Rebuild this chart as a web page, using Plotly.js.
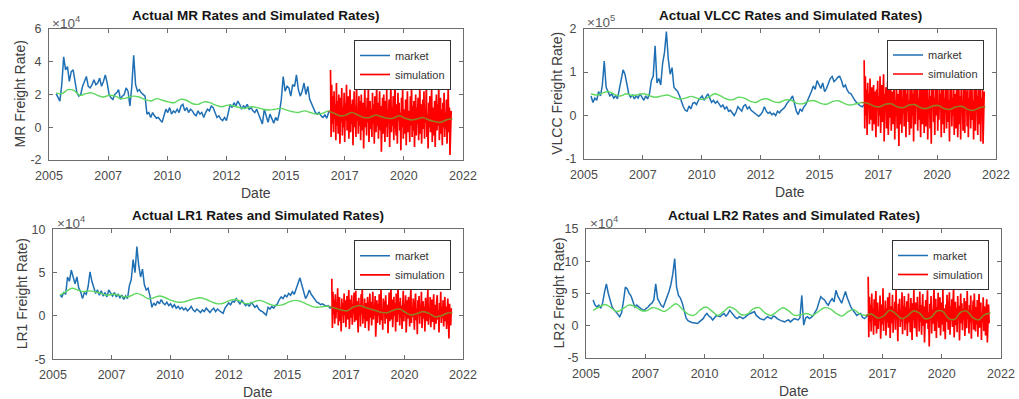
<!DOCTYPE html>
<html><head><meta charset="utf-8">
<script src="https://cdn.plot.ly/plotly-3.0.1.min.js"></script>
<style>html,body{margin:0;padding:0;background:#fff}#chart{width:1019px;height:399px}</style>
</head><body><div id="chart"></div>
<script>
// ---------- shared axis data ----------
const xTickVals = [2005, 2007.5, 2010, 2012.5, 2015, 2017.5, 2020, 2022.5];
const xTickText = ['2005', '2007', '2010', '2012', '2015', '2017', '2020', '2022'];
const marketStart = 2005.3, marketStep = 0.08;   // market series dates
const simStart = 2016.9, simStep = 0.025;         // simulation dates
const meanStart = 2005.3, meanStep = 0.25;        // fitted mean dates

// ---------- MR (x 1e4) ----------
const mrMarket = [2.05,1.8,1.6,2.6,4.3,3.5,3.7,2.8,3.4,3.5,2.7,2.1,1.9,2.0,2.5,2.8,3.1,2.5,2.4,2.6,
2.9,2.6,2.7,3.0,2.5,2.8,3.2,2.7,2.0,1.8,1.7,2.0,2.1,2.3,1.7,1.9,2.0,2.4,2.2,1.3,
2.5,4.4,2.6,2.2,2.3,2.1,2.0,1.9,0.8,0.9,0.6,0.9,0.7,0.55,0.6,0.45,0.3,0.7,1.1,0.9,
1.2,0.8,1.0,0.9,1.1,0.9,1.3,1.4,1.0,1.2,0.9,1.1,1.0,0.8,0.7,1.0,0.8,0.9,0.6,0.9,
1.1,1.0,1.3,1.2,0.9,0.6,0.7,0.5,0.4,0.6,0.4,0.9,1.4,1.2,1.5,1.3,1.6,1.4,1.1,1.3,
1.2,1.4,1.1,1.2,1.0,0.9,1.1,0.8,0.5,0.2,1.1,0.6,0.3,0.8,0.5,0.25,0.6,0.4,0.9,1.7,
3.1,2.2,2.5,2.4,1.9,2.6,2.5,3.2,2.3,1.9,2.2,2.7,2.0,2.5,1.7,1.4,1.1,0.9,0.8,0.9,
0.7,0.6,0.75,0.55,0.9,1.0];
const mrSim = [3.5,-0.6,2.6,0.2,1.9,-0.3,2.2,0.5,1.4,-0.8, 2.7,0.1,1.6,-0.4,2.0,0.6,-1.0,1.8,0.3,2.4,
-0.5,1.2,0.0,2.1,-0.9,1.5,0.4,2.6,-0.2,1.0, 1.9,-0.7,0.8,2.3,-0.3,1.4,0.2,1.7,-1.1,0.9,
2.2,0.0,1.3,-0.6,2.8,0.4,1.1,-0.4,1.9,0.1, 1.6,-0.8,2.0,0.5,-0.2,1.5,-1.3,0.9,2.4,0.0,
1.2,-0.5,1.8,0.3,2.5,-0.9,0.7,1.6,-0.1,1.1, -0.6,2.1,0.2,1.4,-1.0,1.9,0.5,-0.3,2.7,0.1,
1.5,-0.7,0.9,2.2,-0.2,1.3,-1.5,0.6,1.8,-0.4, 2.0,0.3,-0.9,1.6,0.0,2.3,-0.6,1.1,0.4,1.7,
-1.2,0.8,2.6,-0.3,1.2,0.1,1.9,-0.8,1.0,3.0, 0.2,-0.5,1.4,-1.0,2.1,0.4,1.5,-0.2,0.9,-1.4,
1.8,0.0,2.4,-0.7,1.1,0.3,-0.4,1.7,-1.1,0.8, 2.2,-0.3,1.0,0.5,-0.9,1.9,0.1,2.7,-0.6,1.3,
-0.2,1.6,-1.2,0.7,2.0,-0.5,1.2,0.2,1.8,-0.8, 0.9,2.5,-0.4,1.4,-1.0,0.6,1.7,-0.1,2.2,-0.7,
1.1,0.3,2.9,-0.6,0.8,-1.3,1.5,0.0,1.9,-0.3, 0.6,2.3,-0.9,1.2,0.2,-0.5,1.6,-1.2,1.0,2.0,
-0.2,1.4,0.1,2.6,-0.8,0.7,1.8,-0.4,1.1,-1.1, 1.5,0.0,2.1,-0.6,0.9,-0.1,1.7,-1.0,0.5,2.4,
-0.3,1.2,-1.7,0.6,1.0];
const mrMean = [2.1,2.05,2.3,2.25,1.95,2.05,2.1,1.95,1.85,1.95,1.9,1.75,1.8,1.9,1.85,1.7,1.6,1.75,1.65,1.55,
1.5,1.7,1.65,1.45,1.4,1.55,1.5,1.35,1.25,1.35,1.3,1.2,1.15,1.25,1.2,1.1,1.05,1.1,1.15,1.05,
0.95,0.9,1.0,0.9,0.8,0.85,1.0,0.85,0.7,0.75,0.9,0.75,0.6,0.6,0.75,0.65,0.55,0.55,0.7,0.55,
0.45,0.5,0.6,0.45,0.35,0.3,0.45,0.5];

// ---------- VLCC (x 1e5) ----------
const vlccMarket = [0.45,0.3,0.4,0.35,0.55,0.45,0.7,1.25,0.65,0.55,0.45,0.5,0.4,0.45,0.38,0.6,0.85,1.05,0.95,0.7,
0.5,0.42,0.48,0.38,0.45,0.4,0.5,0.42,0.35,0.45,0.38,0.5,0.8,0.9,1.6,0.75,0.85,0.7,1.2,1.45,
1.93,1.3,0.95,1.1,0.65,0.6,0.55,0.45,0.3,0.2,0.12,0.1,0.22,0.15,0.28,0.3,0.25,0.35,0.4,0.45,
0.35,0.42,0.5,0.4,0.3,0.35,0.28,0.33,0.25,0.2,0.24,0.15,0.2,0.1,0.12,0.05,0.0,0.08,0.2,0.15,
0.1,0.22,0.25,0.15,0.2,0.12,0.08,0.05,0.0,-0.02,0.02,0.08,0.2,0.1,0.05,0.08,0.02,0.05,0.0,0.1,
0.06,0.12,0.15,0.2,0.28,0.32,0.38,0.45,0.3,0.1,0.02,0.15,0.1,0.2,0.25,0.35,0.42,0.55,0.68,0.6,
0.8,0.7,0.62,0.75,0.55,0.62,0.72,0.85,0.9,0.78,0.82,0.88,0.9,0.8,0.65,0.7,0.58,0.52,0.5,0.42,
0.35,0.3,0.25,0.22,0.2,0.25];
const vlccSim = [1.27,-0.3,0.9,0.0,0.6,-0.45,0.75,0.2,0.5,-0.2, 0.85,-0.1,0.4,0.65,-0.35,0.3,0.7,-0.2,0.55,0.05,
-0.5,0.6,0.15,0.8,-0.25,0.45,0.0,0.9,-0.4,0.35, 0.7,-0.15,0.25,0.95,-0.6,0.5,0.1,0.65,-0.3,0.4,
0.8,-0.45,0.3,0.6,-0.05,0.85,-0.35,0.2,0.55,-0.2, 0.45,0.9,-0.55,0.35,0.0,0.7,-0.3,0.5,0.15,-0.7,
0.6,0.25,-0.2,0.8,-0.4,0.4,0.05,0.95,-0.25,0.3, 0.7,-0.5,0.5,0.1,0.85,-0.15,0.35,-0.45,0.6,0.2,
-0.3,0.75,0.0,0.5,-0.6,0.9,0.15,-0.2,0.65,0.3, 0.85,-0.35,0.4,-0.1,0.7,0.2,-0.5,0.55,0.95,-0.2,
0.3,0.6,-0.4,0.8,0.05,-0.25,0.5,0.9,-0.55,0.35, 0.1,0.75,-0.3,0.45,-0.65,0.6,0.2,0.85,-0.15,0.4,
-0.45,0.7,0.0,0.55,0.9,-0.35,0.3,-0.1,0.8,0.15, 0.5,-0.5,0.65,0.25,-0.2,0.85,-0.4,0.4,0.05,0.7,
-0.3,0.55,0.95,-0.15,0.35,-0.6,0.6,0.1,0.75,-0.25, 0.4,0.0,0.8,-0.45,0.5,0.2,-0.3,0.7,0.9,-0.5,
0.25,0.6,-0.2,0.45,-0.55,0.85,0.1,0.35,-0.35,0.65, 0.15,-0.4,0.75,0.3,0.55,-0.25,0.9,-0.5,0.4,0.05,
0.7,-0.3,0.5,0.8,-0.1,0.35,-0.55,0.6,0.2,-0.35, 0.75,0.1,0.45,-0.45,0.85,-0.2,0.3,0.6,-0.6,0.4,
0.0,0.7,-0.65,0.3,0.55];
const vlccMean = [0.5,0.47,0.52,0.55,0.48,0.45,0.5,0.46,0.48,0.5,0.45,0.42,0.45,0.47,0.42,0.38,0.4,0.44,0.4,0.37,
0.42,0.5,0.45,0.38,0.36,0.42,0.4,0.33,0.3,0.37,0.38,0.32,0.3,0.36,0.35,0.28,0.27,0.33,0.34,0.28,
0.26,0.32,0.34,0.28,0.24,0.27,0.3,0.28,0.22,0.2,0.26,0.27,0.2,0.18,0.24,0.25,0.18,0.16,0.22,0.23,
0.16,0.14,0.2,0.21,0.14,0.12,0.18,0.2];

// ---------- LR1 (x 1e4) ----------
const lr1Market = [2.4,2.2,2.7,2.5,4.5,4.0,5.3,4.4,3.7,4.5,3.2,2.8,2.0,2.7,2.5,3.4,5.1,4.0,3.3,2.6,
3.0,2.4,2.9,2.3,2.7,2.2,3.0,2.6,2.3,2.7,2.2,2.5,2.1,2.4,1.9,2.3,2.0,3.5,4.2,6.5,
5.0,8.0,5.8,4.5,5.4,3.6,3.0,3.2,2.3,1.0,1.5,1.2,1.7,1.4,1.9,1.5,1.3,1.6,1.2,1.4,
1.0,1.3,0.9,1.1,0.8,1.0,0.7,0.9,0.6,0.8,1.1,0.7,0.5,0.8,0.6,0.4,0.7,0.5,0.9,0.6,
0.4,0.7,0.9,0.5,0.8,0.6,0.4,0.3,0.9,1.2,1.5,1.3,1.7,1.6,2.0,1.7,1.4,1.8,1.5,1.2,
1.4,1.1,1.6,1.3,1.0,1.2,0.8,0.6,0.5,0.3,0.1,1.0,0.8,1.1,0.9,1.2,1.4,1.9,2.2,2.0,
2.4,2.2,2.6,2.4,2.8,2.5,3.2,3.9,4.4,3.6,2.8,2.0,2.4,3.0,2.5,2.2,1.8,1.6,1.5,1.3,
1.4,1.2,1.1,1.2,0.9,1.0];
const lr1Sim = [4.3,-1.4,2.8,0.2,1.9,-0.9,2.5,-0.3,1.6,0.5, 3.2,-1.1,1.3,2.2,-0.6,1.0,-1.8,2.0,0.4,1.5,
-0.8,2.6,0.1,1.8,-1.3,0.9,2.3,-0.4,1.2,3.0, -1.5,0.7,1.9,-0.2,2.4,-1.0,1.4,0.3,2.7,-0.7,
1.1,2.9,-0.5,1.7,0.0,-1.9,2.1,0.6,1.3,-1.2, 2.5,0.2,3.3,-0.9,1.0,-0.3,2.0,-1.4,1.5,0.4,
-0.6,2.2,1.1,-1.7,0.8,2.6,-0.2,1.6,-1.1,0.9, 2.8,-0.4,1.2,0.1,2.3,-2.4,0.7,1.8,-0.8,1.4,
0.0,2.5,-1.0,1.1,3.1,-0.5,0.6,-1.6,2.0,0.3, 1.7,-0.9,2.4,0.5,-0.3,1.3,-2.0,0.9,2.7,-0.6,
1.0,3.4,-0.4,1.9,-1.3,0.4,2.2,0.0,1.5,-1.8, 2.6,0.6,-0.7,4.0,0.2,1.6,-1.1,2.1,-0.2,1.2,
-1.5,0.8,2.9,-0.6,1.4,0.1,2.4,-1.9,0.7,1.8, -0.3,2.2,0.5,-1.2,1.6,3.2,-0.8,1.0,-0.1,2.0,
0.3,-1.6,1.4,2.6,-0.5,0.9,-2.1,1.8,0.2,2.3, -0.9,1.2,0.0,2.8,-1.4,0.6,1.7,-0.3,1.1,-1.8,
2.1,0.4,-0.6,1.5,3.0,-1.0,0.8,-0.2,2.2,-1.3, 0.9,1.9,-0.7,0.3,2.5,-1.6,1.3,0.1,-0.9,1.7,
2.4,-0.4,0.7,-1.9,1.5,0.0,2.8,-0.8,1.0,-0.2, 1.8,-1.2,0.5,2.2,-0.6,1.1,-1.5,0.8,2.0,-0.1,
-2.6,1.4,0.2,-1.1,0.9];
const lr1Mean = [2.4,2.8,3.2,3.0,2.8,2.9,2.8,2.6,2.4,2.5,2.4,2.2,2.3,2.6,2.4,2.0,2.1,2.3,2.1,1.8,
1.6,1.6,1.8,2.0,2.1,1.9,1.6,1.4,1.5,1.8,1.9,1.6,1.4,1.6,1.8,1.6,1.3,1.2,1.3,1.6,
1.8,1.7,1.4,1.1,1.0,1.1,1.1,0.9,0.7,0.6,1.0,1.2,1.0,0.8,0.6,0.4,0.4,0.7,0.8,0.4,
0.1,0.3,0.5,0.3,-0.1,0.0,0.3,0.4];

// ---------- LR2 (x 1e4) ----------
const lr2Market = [4.0,3.2,2.9,3.2,2.7,3.5,5.2,6.5,5.0,3.8,2.9,2.5,2.2,1.8,1.4,2.0,3.8,6.0,5.7,5.0,
4.6,3.8,2.9,3.2,2.9,2.7,2.5,2.4,2.7,2.9,3.3,3.5,4.0,6.5,4.2,3.6,3.1,2.9,3.7,4.3,
5.3,6.4,8.0,10.4,6.0,4.7,4.3,3.5,2.2,1.2,0.8,0.6,0.5,0.45,0.4,0.35,0.6,0.9,1.1,1.6,
1.9,1.5,1.3,0.9,1.2,1.6,1.5,1.4,1.7,1.9,1.5,1.8,2.4,2.0,1.6,1.3,1.1,1.4,1.3,1.1,
1.3,1.6,1.8,1.9,2.1,2.2,1.6,1.3,1.1,1.0,0.9,1.2,1.4,1.2,1.1,1.5,1.4,1.1,0.9,0.8,
0.7,0.6,0.8,0.9,0.6,0.8,1.1,1.0,0.9,1.2,4.7,0.1,1.2,1.4,1.1,1.3,1.6,2.1,2.6,3.6,
4.5,4.2,4.0,3.5,3.2,3.8,4.2,3.7,5.5,4.6,4.0,3.5,4.4,5.3,4.3,3.4,2.8,2.4,2.0,1.6,
1.8,1.9,1.3,1.1,1.4,1.6];
const lr2Sim = [7.6,-1.8,4.5,0.6,3.2,-0.9,5.0,1.2,2.6,-1.4, 4.1,0.0,2.8,5.4,-1.2,1.9,3.6,-0.5,2.2,0.8,
4.7,-2.0,1.5,3.3,0.2,5.8,-0.8,2.4,1.0,3.9, -1.5,2.7,0.5,4.4,-0.3,1.8,5.1,-1.9,2.0,3.0,
0.4,4.8,-1.1,2.5,1.3,3.7,-0.6,5.6,0.9,2.1, -2.4,3.4,1.6,4.2,-0.2,2.3,0.7,5.2,-1.3,3.1,
1.1,4.6,-0.7,2.9,0.3,3.8,-1.6,2.2,5.0,0.5, 2.7,-1.0,4.3,1.4,-2.2,3.5,0.8,5.9,-0.4,2.0,
3.6,0.1,-1.7,4.5,1.2,2.6,-0.9,5.3,0.6,3.2, -1.4,2.4,4.9,0.0,3.0,-2.6,1.7,4.0,0.4,2.8,
5.5,-0.5,2.1,-3.2,3.4,1.0,4.6,-1.2,2.5,0.3, 3.9,6.0,-0.8,1.8,4.2,-1.9,2.9,0.7,5.1,-0.3,
2.2,4.4,-1.5,1.3,3.6,0.2,5.7,-0.9,2.7,1.1, -2.1,3.3,0.6,4.8,1.5,-0.6,2.5,5.2,-1.4,3.0,
0.8,4.1,-0.2,2.3,6.1,-1.8,1.6,3.7,0.1,2.8, -1.0,4.6,1.2,3.1,-2.3,2.0,5.0,0.4,3.5,-0.7,
2.6,0.9,4.3,-1.6,1.9,3.8,-0.4,5.4,1.0,2.4, -1.2,3.2,0.5,4.7,-2.0,2.1,1.4,3.9,-0.6,5.0,
1.7,-0.9,2.9,0.2,4.0,-1.7,2.4,4.9,-0.3,1.5, 3.6,-2.2,2.0,0.6,4.4,-0.8,3.0,1.3,-1.5,2.6,
4.1,-2.6,1.8,3.3,0.4];
const lr2Mean = [2.4,2.9,3.3,2.8,2.2,2.6,3.2,3.0,2.4,2.3,2.8,2.6,2.2,2.8,3.4,2.6,1.8,1.6,2.4,2.9,
2.3,1.6,2.2,2.9,2.5,1.7,1.8,2.6,2.8,2.0,1.6,2.2,2.8,2.3,1.6,1.7,1.9,1.6,2.2,2.8,
2.6,1.9,1.5,2.2,2.5,1.8,1.6,1.8,1.2,1.5,2.4,1.9,1.1,1.5,2.3,2.0,1.1,1.3,2.3,2.2,
1.1,1.0,2.1,2.3,1.3,0.9,1.7,2.0];

// ---------- panel definitions ----------
const panels = [
  {title: 'Actual MR Rates and Simulated Rates)', ylabel: 'MR Freight Rate)', exp: '4',
   market: mrMarket, sim: mrSim, mean: mrMean,
   yrange: [-2, 6], yticks: [-2, 0, 2, 4, 6], ytext: ['-2', '0', '2', '4', '6'],
   box: [49, 463, 29, 160], ylab: 20, expx: 50},
  {title: 'Actual VLCC Rates and Simulated Rates)', ylabel: 'VLCC Freight Rate)', exp: '5',
   market: vlccMarket, sim: vlccSim, mean: vlccMean,
   yrange: [-1, 2], yticks: [-1, 0, 1, 2], ytext: ['-1', '0', '1', '2'],
   box: [584, 996, 28.5, 159], ylab: 557, expx: 585},
  {title: 'Actual LR1 Rates and Simulated Rates)', ylabel: 'LR1 Freight Rate)', exp: '4',
   market: lr1Market, sim: lr1Sim, mean: lr1Mean,
   yrange: [-5, 10], yticks: [-5, 0, 5, 10], ytext: ['-5', '0', '5', '10'],
   box: [53, 463, 229.3, 359.3], ylab: 22, expx: 55},
  {title: 'Actual LR2 Rates and Simulated Rates)', ylabel: 'LR2 Freight Rate)', exp: '4',
   market: lr2Market, sim: lr2Sim, mean: lr2Mean,
   yrange: [-5, 15], yticks: [-5, 0, 5, 10, 15], ytext: ['-5', '0', '5', '10', '15'],
   box: [586, 1001, 229, 358], ylab: 558, expx: 588}
];

const W = 1019, H = 399;
const fx = p => p / W, fy = p => 1 - p / H;
const seq = (start, step, n) => Array.from({length: n}, (_, i) => +(start + i * step).toFixed(4));

const FONT = 'Liberation Sans, Arial, Helvetica, sans-serif';
const traces = [], annotations = [];
const layout = {
  width: W, height: H, margin: {l: 0, r: 0, t: 0, b: 0},
  paper_bgcolor: '#fff', plot_bgcolor: '#fff', showlegend: true,
  font: {family: FONT, size: 12, color: '#404040'}
};

panels.forEach((p, k) => {
  const n = k === 0 ? '' : String(k + 1);
  const xa = 'x' + n, ya = 'y' + n, lg = 'legend' + n;
  const [x0, x1, y0, y1] = p.box;
  const axisCommon = {
    showline: true, mirror: 'ticks', linecolor: '#6e6e6e', linewidth: 1,
    ticks: 'inside', ticklen: 4, tickcolor: '#6e6e6e', tickwidth: 1,
    showgrid: false, zeroline: false, fixedrange: true,
    tickfont: {family: FONT, size: 12.5, color: '#4a4a4a'}
  };
  layout['xaxis' + n] = Object.assign({}, axisCommon, {
    domain: [fx(x0), fx(x1)], anchor: ya, range: [2005, 2022.5],
    tickmode: 'array', tickvals: xTickVals, ticktext: xTickText, ticklabelstandoff: 4
  });
  layout['yaxis' + n] = Object.assign({}, axisCommon, {
    domain: [fy(y1), fy(y0)], anchor: xa, range: p.yrange,
    tickmode: 'array', tickvals: p.yticks, ticktext: p.ytext, ticklabelstandoff: 4
  });

  const xm = seq(marketStart, marketStep, p.market.length);
  const xs = seq(simStart, simStep, p.sim.length);
  const xg = seq(meanStart, meanStep, p.mean.length);
  let cut = xg.findIndex(v => v > simStart);
  if (cut < 0) cut = xg.length;

  traces.push({type: 'scatter', mode: 'lines', x: xm, y: p.market, xaxis: xa, yaxis: ya,
    name: 'market', legend: lg, line: {color: '#1f6fb4', width: 1.5}, hoverinfo: 'skip'});
  traces.push({type: 'scatter', mode: 'lines', x: xs, y: p.sim, xaxis: xa, yaxis: ya,
    name: 'simulation', legend: lg, line: {color: '#ff0000', width: 1.7}, hoverinfo: 'skip'});
  traces.push({type: 'scatter', mode: 'lines', x: xg.slice(0, cut), y: p.mean.slice(0, cut),
    xaxis: xa, yaxis: ya, showlegend: false, line: {color: '#5fd85f', width: 1.4, shape: 'spline'}, hoverinfo: 'skip'});
  traces.push({type: 'scatter', mode: 'lines', x: xg.slice(cut - 1), y: p.mean.slice(cut - 1),
    xaxis: xa, yaxis: ya, showlegend: false, line: {color: '#957c22', width: 1.6, shape: 'spline'}, hoverinfo: 'skip'});

  layout[lg] = {
    x: fx(x1 - 12), y: fy(y0 + 11), xref: 'paper', yref: 'paper', xanchor: 'right', yanchor: 'top',
    bgcolor: '#fff', bordercolor: '#333', borderwidth: 1, itemwidth: 30,
    font: {family: FONT, size: 11, color: '#333'}, tracegroupgap: 0
  };

  const cx = (x0 + x1) / 2, cy = (y0 + y1) / 2;
  annotations.push({text: '<b>' + p.title + '</b>', x: fx(cx), y: fy(y0 - 13.5), xref: 'paper', yref: 'paper',
    showarrow: false, xanchor: 'center', yanchor: 'middle', font: {family: FONT, size: 13.5, color: '#151515'}});
  annotations.push({text: 'Date', x: fx(cx), y: fy(y1 + 33), xref: 'paper', yref: 'paper',
    showarrow: false, xanchor: 'center', yanchor: 'middle', font: {family: FONT, size: 14, color: '#404040'}});
  annotations.push({text: p.ylabel, x: fx(p.ylab), y: fy(cy), xref: 'paper', yref: 'paper', textangle: -90,
    showarrow: false, xanchor: 'center', yanchor: 'middle', font: {family: FONT, size: 14, color: '#404040'}});
  annotations.push({text: '\u00d710<sup>' + p.exp + '</sup>', x: fx(p.expx), y: fy(y0 - 7.5), xref: 'paper', yref: 'paper',
    showarrow: false, xanchor: 'left', yanchor: 'middle', font: {family: FONT, size: 13.5, color: '#5a5a5a'}});
});
layout.annotations = annotations;

Plotly.newPlot('chart', traces, layout, {staticPlot: true, displayModeBar: false});
</script>
</body></html>
